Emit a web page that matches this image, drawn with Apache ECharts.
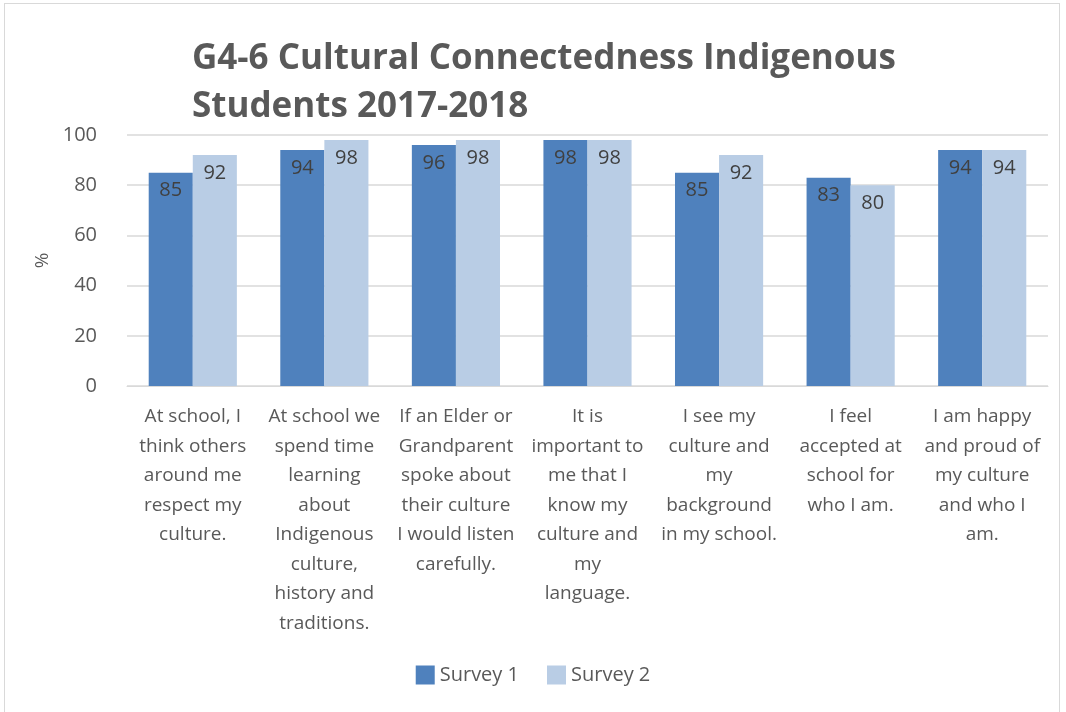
<!DOCTYPE html>
<html><head><meta charset="utf-8">
<script src="https://cdn.jsdelivr.net/npm/echarts@6/dist/echarts.min.js"></script>
<style>
html,body{margin:0;padding:0;background:#fff;}
#frame{position:absolute;left:4px;top:3px;width:1056px;height:720px;border:1px solid #d9d9d9;box-sizing:border-box;}
#c{position:absolute;left:0;top:0;width:1066px;height:712px;}
</style></head>
<body>
<div id="frame"></div>
<div id="c"></div>
<script>
const categories = [
  "At school, I\nthink others\naround me\nrespect my\nculture.",
  "At school we\nspend time\nlearning\nabout\nIndigenous\nculture,\nhistory and\ntraditions.",
  "If an Elder or\nGrandparent\nspoke about\ntheir culture\nI would listen\ncarefully.",
  "It is\nimportant to\nme that I\nknow my\nculture and\nmy\nlanguage.",
  "I see my\nculture and\nmy\nbackground\nin my school.",
  "I feel\naccepted at\nschool for\nwho I am.",
  "I am happy\nand proud of\nmy culture\nand who I\nam."
];
const survey1 = [85, 94, 96, 98, 85, 83, 94];
const survey2 = [92, 98, 98, 98, 92, 80, 94];
const yTicks = [0, 20, 40, 60, 80, 100];

const FONT = "'Open Sans', 'Noto Sans', sans-serif";
const chart = echarts.init(document.getElementById('c'));
const lbl = {show: true, position: 'insideTop', distance: 8, color: '#404040', fontSize: 20, fontFamily: FONT};
chart.setOption({
  animation: false,
  title: {
    text: 'G4-6 Cultural Connectedness Indigenous\nStudents 2017-2018',
    left: 187, top: 30,
    textStyle: {fontFamily: FONT, fontWeight: 'bold', fontSize: 35, color: '#595959', lineHeight: 48}
  },
  legend: {
    bottom: 22, left: 'center', itemWidth: 19, itemHeight: 19, itemGap: 28, icon: 'rect',
    textStyle: {fontFamily: FONT, fontSize: 20, color: '#595959'},
    data: ['Survey 1', 'Survey 2']
  },
  grid: {left: 127, right: 18, top: 135, bottom: 326, containLabel: false},
  xAxis: {
    type: 'category', data: categories,
    axisLine: {lineStyle: {color: '#d9d9d9', width: 1}},
    axisTick: {show: false},
    axisLabel: {interval: 0, fontFamily: FONT, fontSize: 19, color: '#595959', lineHeight: 29.5, margin: 16}
  },
  yAxis: {
    type: 'value', min: yTicks[0], max: yTicks[yTicks.length-1], interval: 20,
    name: '%', nameLocation: 'middle', nameGap: 70, nameRotate: 90,
    nameTextStyle: {fontFamily: FONT, fontSize: 19, color: '#595959'},
    axisLine: {show: false}, axisTick: {show: false},
    axisLabel: {fontFamily: FONT, fontSize: 20, color: '#595959', margin: 30},
    splitLine: {lineStyle: {color: '#d9d9d9', width: 1.5}}
  },
  series: [
    {name: 'Survey 1', type: 'bar', data: survey1, barGap: '0%', barCategoryGap: '33%',
     itemStyle: {color: '#4f81bd'}, label: lbl},
    {name: 'Survey 2', type: 'bar', data: survey2, barGap: '0%', barCategoryGap: '33%',
     itemStyle: {color: '#b9cde5'}, label: lbl}
  ]
});
</script>
</body></html>
